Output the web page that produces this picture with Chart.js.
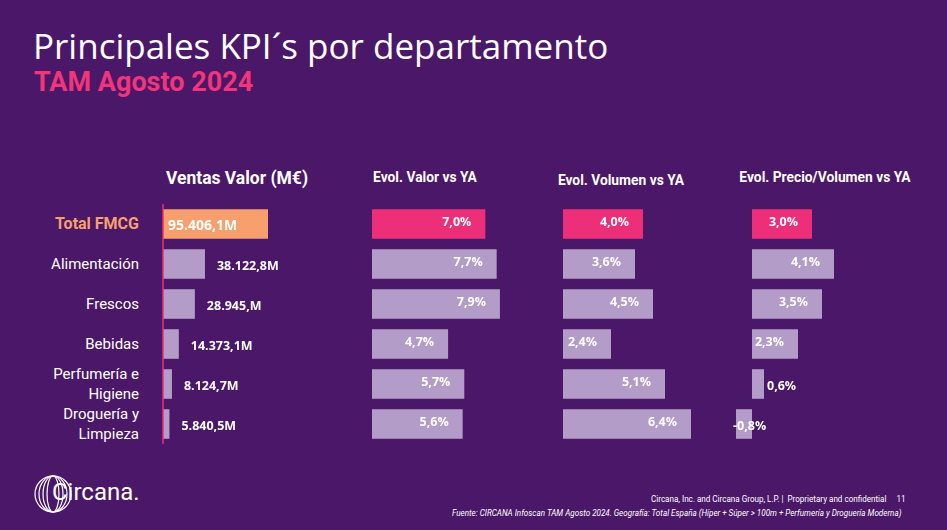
<!DOCTYPE html>
<html><head><meta charset="utf-8">
<script src="https://cdn.jsdelivr.net/npm/chart.js@4"></script>
<style>
body{margin:0;width:947px;height:530px;background:#4b1768;position:relative;overflow:hidden;font-family:Roboto,sans-serif;color:#fff}
.t{position:absolute;white-space:nowrap}
.c{position:absolute;top:204px;height:240px}
.h{position:absolute;top:168px;font-weight:bold;font-size:15px;transform:translateX(-50%) scaleX(0.92);white-space:nowrap}
.cat{position:absolute;right:808px;width:140px;text-align:right;font-size:15px;line-height:20px;transform:translateY(-50%)}
</style></head><body>
<div class="t" style="left:33px;top:22px;font-size:35px;font-family:'Open Sans';">Principales KPI´s por departamento</div>
<div class="t" style="left:34px;top:66px;font-size:27px;font-weight:bold;color:#f0357a">TAM Agosto 2024</div>
<div class="h" style="left:237px;top:166px;font-size:19px">Ventas Valor (M€)</div>
<div class="h" style="left:425px">Evol. Valor vs YA</div>
<div class="h" style="left:621px;top:171px">Evol. Volumen vs YA</div>
<div class="h" style="left:825px">Evol. Precio/Volumen vs YA</div>
<div id="cats"></div>
<div class="c" style="left:0;width:360px"><canvas id="c1"></canvas></div>
<div class="c" style="left:372px;width:170px"><canvas id="c2"></canvas></div>
<div class="c" style="left:563px;width:170px"><canvas id="c3"></canvas></div>
<div class="c" style="left:732px;width:190px"><canvas id="c4"></canvas></div>
<svg style="position:absolute;left:33px;top:474px" width="40" height="40" viewBox="0 0 40 40" fill="none" stroke="#fff" stroke-width="1.2">
<ellipse cx="20" cy="20" rx="18" ry="18"/><ellipse cx="20" cy="20" rx="14" ry="18"/><ellipse cx="20" cy="20" rx="10" ry="18"/><ellipse cx="20" cy="20" rx="6" ry="18"/></svg>
<div class="t" style="left:52px;top:478px;font-size:24px">Circana.</div>
<div class="t" style="left:651px;top:493px;font-size:9.5px;transform:scaleX(0.85);transform-origin:left">Circana, Inc. and Circana Group, L.P. |&nbsp; Proprietary and confidential&nbsp;&nbsp;&nbsp;&nbsp; 11</div>
<div class="t" style="left:452px;top:507px;font-size:9.5px;font-style:italic;transform:scaleX(0.85);transform-origin:left">Fuente: CIRCANA Infoscan TAM Agosto 2024. Geografía: Total España (Híper + Súper > 100m + Perfumería y Droguería Moderna)</div>
<script>
const categories=["Total FMCG","Alimentación","Frescos","Bebidas",["Perfumería e","Higiene"],["Droguería y","Limpieza"]];
const ventasValor=[95406.1,38122.8,28945.0,14373.1,8124.7,5840.5];
const ventasLabels=["95.406,1M","38.122,8M","28.945,M","14.373,1M","8.124,7M","5.840,5M"];
const evolValor=[7.0,7.7,7.9,4.7,5.7,5.6];
const evolVolumen=[4.0,3.6,4.5,2.4,5.1,6.4];
const evolPrecio=[3.0,4.1,3.5,2.3,0.6,-0.8];
const fmtPct=v=>v.toFixed(1).replace('.',',')+'%';
const LAV='#b49cc9',PINK='#ec2f78',ORANGE='#f7a06e';

function labelPlugin(fmt,mode){return{id:'lbl',afterDatasetsDraw(ch){
  const ctx=ch.ctx,meta=ch.getDatasetMeta(0),data=ch.data.datasets[0].data;
  ctx.save();ctx.fillStyle='#fff';ctx.font='bold 12.5px "Open Sans"';ctx.textBaseline='middle';
  if(mode==='abs'){ctx.strokeStyle=PINK;ctx.lineWidth=1.5;ctx.beginPath();ctx.moveTo(meta.data[0].base,ch.chartArea.top);ctx.lineTo(meta.data[0].base,ch.chartArea.bottom);ctx.stroke();}
  meta.data.forEach((b,i)=>{const v=data[i],t=fmt(v,i);
    if(i===0||mode!=='abs'){
      // category label html (once, from first chart)
    }
    if(mode==='abs'){ if(i===0){ctx.textAlign='left';ctx.font='bold 14px "Open Sans"';ctx.fillText(t,b.base+5,b.y+2);ctx.font='bold 12.5px "Open Sans"';}
      else{ctx.textAlign='left';ctx.fillText(t,b.x+12,b.y+2);}
      const d=document.createElement('div');d.className='cat';d.style.top=(204+b.y)+'px';
      const c=categories[i];d.innerHTML=Array.isArray(c)?c.join('<br>'):c;
      if(i===0){d.style.color=ORANGE;d.style.fontWeight='bold';d.style.fontSize='16px';}
      document.getElementById('cats').appendChild(d);
    }
    else{ if(Math.abs(v)<1){ctx.textAlign='left';ctx.fillText(t,b.x+(v>=0?3:-3),b.y+2);}
      else{ctx.textAlign='right';ctx.fillText(t,b.x-14,b.y-2);} }
  });ctx.restore();}}}

function make(id,vals,min,max,colors,fmt,mode,padL){
  new Chart(document.getElementById(id),{type:'bar',
    data:{labels:categories,datasets:[{data:vals,backgroundColor:colors,borderWidth:0,barPercentage:0.74,categoryPercentage:1}]},
    options:{indexAxis:'y',responsive:true,maintainAspectRatio:false,animation:false,
      layout:{padding:{left:padL,right:0,top:0,bottom:0}},plugins:{legend:{display:false},tooltip:{enabled:false}},
      scales:{x:{display:false,min:min,max:max},y:{display:false}}},
    plugins:[labelPlugin(fmt,mode)]});
}
const cols=(first)=>categories.map((_,i)=>i===0?first:LAV);
make('c1',ventasValor,0,179000,cols(ORANGE),(v,i)=>ventasLabels[i],'abs',163);
make('c2',evolValor,0,10.5,cols(PINK),fmtPct,'pct',0);
make('c3',evolVolumen,0,8.5,cols(PINK),fmtPct,'pct',0);
make('c4',evolPrecio,-1,8.5,cols(PINK),fmtPct,'pct',0);
</script></body></html>
